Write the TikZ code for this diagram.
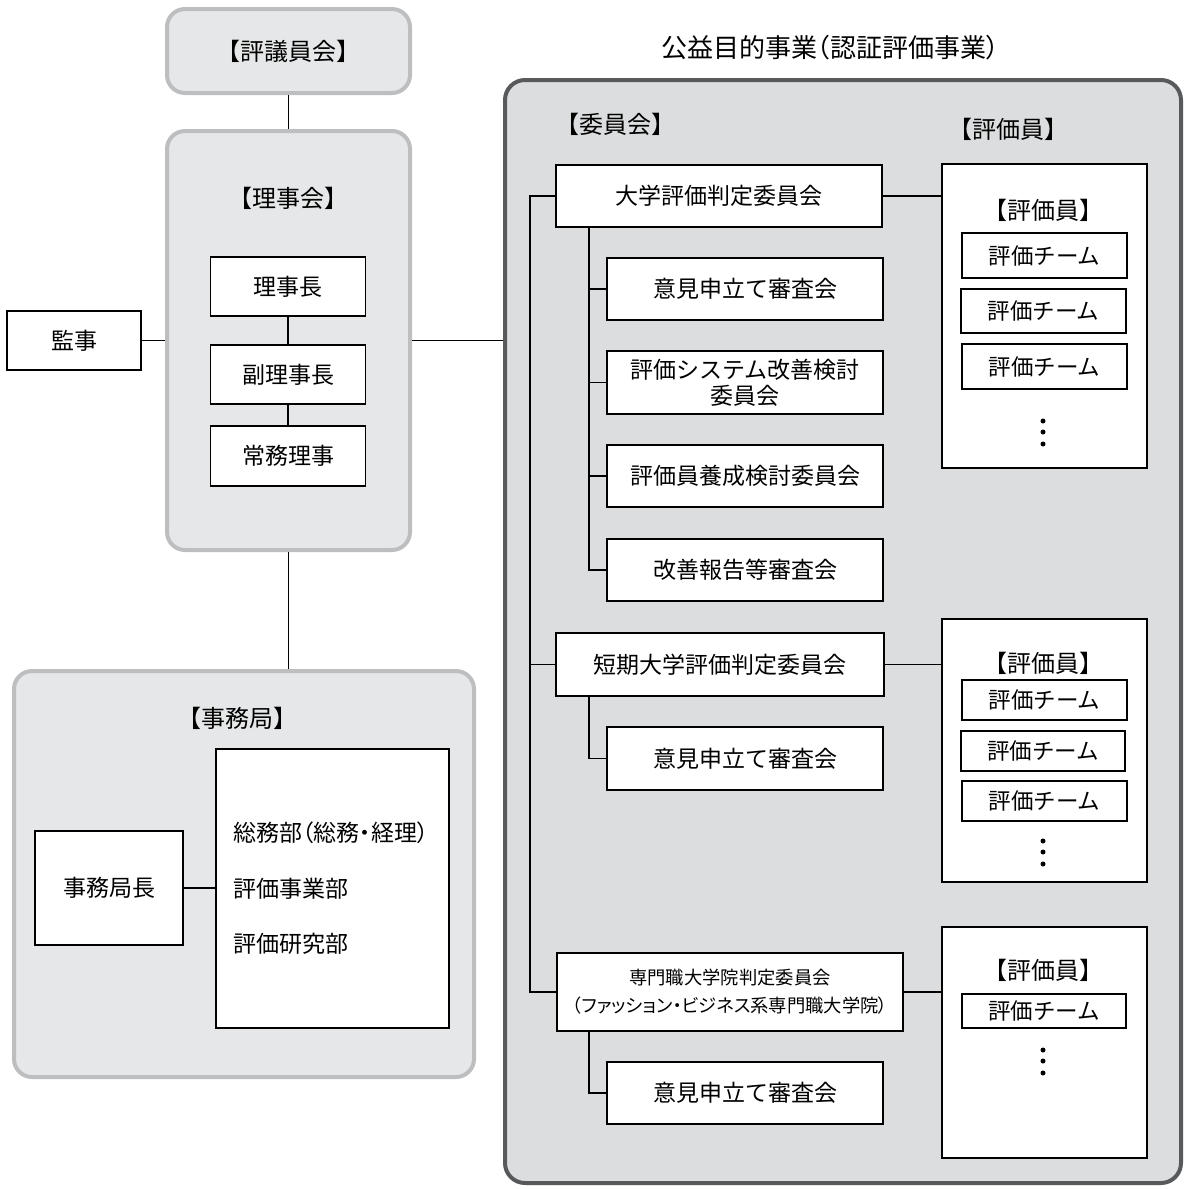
\documentclass[tikz,border=0pt]{standalone}
\usepackage{fontspec}
\setmainfont{Noto Sans CJK JP}
\newfontfamily\paltfont{Noto Sans CJK JP}[RawFeature=+palt]
\definecolor{lgfill}{HTML}{E6E7E8}
\definecolor{lgborder}{HTML}{BCBEC0}
\definecolor{bigfill}{HTML}{DCDDDE}
\definecolor{bigborder}{HTML}{58595B}
\tikzset{
  cont/.style={draw=lgborder, fill=lgfill, line width=4pt, rounded corners=18pt, inner sep=0pt},
  bigcont/.style={draw=bigborder, fill=bigfill, line width=4pt, rounded corners=20pt, inner sep=0pt},
  wbox/.style={draw, fill=white, line width=1.3pt, inner sep=0pt, align=center, font=\fontsize{23}{28}\selectfont},
  tbox/.style={draw, fill=white, line width=1.3pt, inner sep=0pt, font=\fontsize{22.5}{26}\selectfont},
  lbl/.style={inner sep=0pt, font=\fontsize{24}{28}\selectfont},
  conn/.style={line width=1.3pt},
  vdot/.style={circle, fill=black, inner sep=0pt, minimum size=5pt}
}
\begin{document}
\begin{tikzpicture}[x=1pt,y=-1pt]
\useasboundingbox (0,0) rectangle (1184,1189);
% left side containers
\node[cont, minimum width=243pt, minimum height=84pt] (gikai) at (288.5,51) {};
\node[lbl] (gikaiL) at (288.5,51) {【評議員会】};
\node[cont, minimum width=243pt, minimum height=419pt] (rijikai) at (288.5,340.5) {};
\node[lbl] (rijikaiL) at (288,198) {【理事会】};
\node[wbox, minimum width=155pt, minimum height=59pt] (rijicho) at (288,286.5) {理事長};
\node[wbox, minimum width=155pt, minimum height=59pt] (fuku) at (288,374.5) {副理事長};
\node[wbox, minimum width=155pt, minimum height=60pt] (jomu) at (288,456) {常務理事};
\node[wbox, minimum width=134pt, minimum height=59pt] (kanji) at (74,340.5) {監事};
\node[cont, minimum width=460pt, minimum height=406pt] (jimu) at (244,874) {};
\node[lbl] (jimuL) at (237,718) {【事務局】};
\node[wbox, minimum width=148pt, minimum height=114pt] (jimucho) at (109,888) {事務局長};
\node[wbox, minimum width=233pt, minimum height=279pt] (bu) at (332.5,888.5) {};
\node[inner sep=0pt, anchor=west, font=\paltfont\fontsize{23}{28}\selectfont] (bu1) at (233,833) {総務部（総務・経理）};
\node[inner sep=0pt, anchor=west, font=\fontsize{23}{28}\selectfont] (bu2) at (233,889) {評価事業部};
\node[inner sep=0pt, anchor=west, font=\fontsize{23}{28}\selectfont] (bu3) at (233,944) {評価研究部};
% big container
\node[bigcont, minimum width=676pt, minimum height=1103pt] (big) at (843,631.5) {};
\node[inner sep=0pt, font=\paltfont\fontsize{26}{30}\selectfont] (title) at (830,48) {公益目的事業（認証評価事業）};
\node[lbl] (iinL) at (615,124) {【委員会】};
\node[lbl] (hyoL) at (1008,129) {【評価員】};
% committees
\node[wbox, minimum width=326pt, minimum height=62pt] (c1) at (719,196) {大学評価判定委員会};
\node[wbox, minimum width=276pt, minimum height=62pt] (s11) at (745,289) {意見申立て審査会};
\node[wbox, minimum width=276pt, minimum height=63pt, font=\fontsize{23}{26}\selectfont] (s12) at (745,382.5) {評価システム改善検討\\委員会};
\node[wbox, minimum width=276pt, minimum height=62pt] (s13) at (745,476) {評価員養成検討委員会};
\node[wbox, minimum width=276pt, minimum height=62pt] (s14) at (745,570) {改善報告等審査会};
\node[wbox, minimum width=328pt, minimum height=63pt] (c2) at (720,664.5) {短期大学評価判定委員会};
\node[wbox, minimum width=276pt, minimum height=63pt] (s21) at (745,758.5) {意見申立て審査会};
\node[wbox, minimum width=346pt, minimum height=78pt, font=\fontsize{18.3}{28}\selectfont] (c3) at (730,992) {専門職大学院判定委員会\\{\paltfont\fontsize{18.3}{22}\selectfont （ファッション・ビジネス系専門職大学院）}};
\node[wbox, minimum width=276pt, minimum height=62pt] (s31) at (745,1093) {意見申立て審査会};
% evaluator boxes
\node[wbox, minimum width=205pt, minimum height=304pt] (e1) at (1044.5,316) {};
\node[lbl] (e1L) at (1043,210) {【評価員】};
\node[tbox, minimum width=165pt, minimum height=45pt] (t11) at (1044.5,255.5) {評価チーム};
\node[tbox, minimum width=165pt, minimum height=44pt] (t12) at (1043.5,311) {評価チーム};
\node[tbox, minimum width=165pt, minimum height=45pt] (t13) at (1044.5,366.5) {評価チーム};
\node[vdot] (d11) at (1043,421) {};
\node[vdot] (d12) at (1043,432) {};
\node[vdot] (d13) at (1043,444) {};
\node[wbox, minimum width=205pt, minimum height=263pt] (e2) at (1044.5,750.5) {};
\node[lbl] (e2L) at (1043,663) {【評価員】};
\node[tbox, minimum width=165pt, minimum height=40pt] (t21) at (1044.5,700) {評価チーム};
\node[tbox, minimum width=164pt, minimum height=40pt] (t22) at (1043,751) {評価チーム};
\node[tbox, minimum width=165pt, minimum height=40pt] (t23) at (1044.5,801) {評価チーム};
\node[vdot] (d21) at (1043,841) {};
\node[vdot] (d22) at (1043,852) {};
\node[vdot] (d23) at (1043,864) {};
\node[wbox, minimum width=205pt, minimum height=231pt] (e3) at (1044.5,1042.5) {};
\node[lbl] (e3L) at (1043,970) {【評価員】};
\node[tbox, minimum width=164pt, minimum height=34pt] (t31) at (1044,1011) {評価チーム};
\node[vdot] (d31) at (1043,1050) {};
\node[vdot] (d32) at (1043,1061) {};
\node[vdot] (d33) at (1043,1073) {};
% connectors left
\draw[conn] (gikai.south) -- (rijikai.north);
\draw[conn] (rijicho.south) -- (fuku.north);
\draw[conn] (fuku.south) -- (jomu.north);
\draw[conn] (kanji.east) -- (kanji.east -| rijikai.west);
\draw[conn] (rijikai.east) -- (rijikai.east -| big.west);
\draw[conn] (rijikai.south) -- (rijikai.south |- jimu.north);
\draw[conn] (jimucho.east) -- (jimucho.east -| bu.west);
% connectors right
\coordinate (trunkTop) at (530,196);
\coordinate (trunkBot) at (530,992);
\draw[conn] (c1.west) -- (trunkTop) -- (trunkBot) -- (c3.west);
\draw[conn] (c2.west) -- (c2.west -| trunkTop);
\coordinate (b1) at (589,227);
\draw[conn] (b1) |- (s14.west);
\draw[conn] (s11.west) -- (s11.west -| b1);
\draw[conn] (s12.west) -- (s12.west -| b1);
\draw[conn] (s13.west) -- (s13.west -| b1);
\coordinate (b2) at (589,696);
\draw[conn] (b2) |- (s21.west);
\coordinate (b3) at (589,1031);
\draw[conn] (b3) |- (s31.west);
\draw[conn] (c1.east) -- (c1.east -| e1.west);
\draw[conn] (c2.east) -- (c2.east -| e2.west);
\draw[conn] (c3.east) -- (c3.east -| e3.west);
\end{tikzpicture}
\end{document}
